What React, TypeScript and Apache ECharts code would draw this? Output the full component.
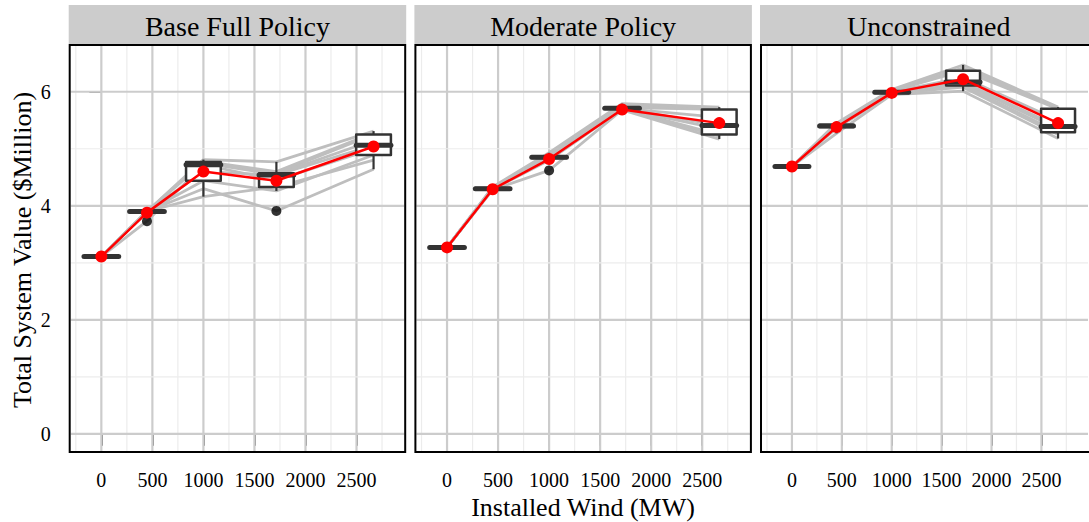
import React, { useEffect, useRef } from "react";
import * as echarts from "echarts";

// ---------- data ----------
const PANELS = ["Base Full Policy", "Moderate Policy", "Unconstrained"];
const WIND = [0, 447, 1000, 1715, 2667];
const X_TICKS = [0, 500, 1000, 1500, 2000, 2500];
const X_MINOR = [-250, 250, 750, 1250, 1750, 2250, 2750];
const Y_TICKS = [0, 2, 4, 6];
const Y_MINOR = [1, 3, 5];

// box stats per wind level: [min, q1, median, q3, max]
const BOX_BASE = [
  [3.11, 3.11, 3.11, 3.11, 3.11],
  [3.9, 3.9, 3.9, 3.9, 3.9],
  [4.16, 4.44, 4.72, 4.77, 4.81],
  [4.26, 4.33, 4.54, 4.57, 4.77],
  [4.64, 4.89, 5.06, 5.25, 5.31],
];
const BOX_MOD = [
  [3.27, 3.27, 3.27, 3.27, 3.27],
  [4.28, 4.3, 4.3, 4.31, 4.33],
  [4.8, 4.84, 4.85, 4.86, 4.93],
  [5.68, 5.7, 5.71, 5.72, 5.79],
  [5.17, 5.25, 5.41, 5.69, 5.73],
];
const BOX_UNC = [
  [4.69, 4.69, 4.69, 4.69, 4.69],
  [5.27, 5.38, 5.4, 5.42, 5.45],
  [5.95, 5.98, 5.99, 6.01, 6.04],
  [6.01, 6.11, 6.17, 6.37, 6.47],
  [5.18, 5.29, 5.39, 5.7, 5.73],
];

// outliers: [wind, value]
const OUT_BASE = [
  [447, 3.73],
  [1715, 3.91],
];
const OUT_MOD = [[1000, 4.62]];
const OUT_UNC: number[][] = [];

// mean values per wind level
const MEAN_BASE = [3.11, 3.88, 4.6, 4.44, 5.04];
const MEAN_MOD = [3.27, 4.29, 4.82, 5.69, 5.45];
const MEAN_UNC = [4.69, 5.38, 5.98, 6.22, 5.45];

// individual runs (values per wind level)
const RUNS_BASE = [
  [3.11, 3.9, 4.3, 3.91, 4.64],
  [3.11, 3.9, 4.16, 4.33, 4.8],
  [3.11, 3.9, 4.44, 4.26, 4.89],
  [3.11, 3.73, 4.72, 4.45, 5.0],
  [3.11, 3.9, 4.6, 4.54, 5.06],
  [3.11, 3.9, 4.75, 4.55, 5.15],
  [3.11, 3.9, 4.77, 4.57, 5.25],
  [3.11, 3.9, 4.78, 4.6, 5.28],
  [3.11, 3.9, 4.81, 4.77, 5.31],
];
const RUNS_MOD = [
  [3.27, 4.28, 4.62, 5.68, 5.17],
  [3.27, 4.29, 4.8, 5.69, 5.22],
  [3.27, 4.3, 4.84, 5.7, 5.25],
  [3.27, 4.3, 4.84, 5.7, 5.35],
  [3.27, 4.3, 4.85, 5.71, 5.41],
  [3.27, 4.31, 4.85, 5.71, 5.55],
  [3.27, 4.31, 4.86, 5.72, 5.69],
  [3.27, 4.32, 4.88, 5.75, 5.71],
  [3.27, 4.33, 4.93, 5.79, 5.73],
];
const RUNS_UNC = [
  [4.69, 5.27, 5.95, 6.01, 5.18],
  [4.69, 5.36, 5.97, 6.08, 5.25],
  [4.69, 5.38, 5.98, 6.11, 5.29],
  [4.69, 5.4, 5.99, 6.15, 5.35],
  [4.69, 5.4, 5.99, 6.17, 5.39],
  [4.69, 5.41, 6.0, 6.25, 5.5],
  [4.69, 5.42, 6.01, 6.37, 5.7],
  [4.69, 5.43, 6.02, 6.42, 5.72],
  [4.69, 5.45, 6.04, 6.47, 5.73],
];

const BOXES = [BOX_BASE, BOX_MOD, BOX_UNC];
const OUTLIERS = [OUT_BASE, OUT_MOD, OUT_UNC];
const MEANS = [MEAN_BASE, MEAN_MOD, MEAN_UNC];
const RUNS = [RUNS_BASE, RUNS_MOD, RUNS_UNC];

// ---------- layout / style ----------
const W = 1089;
const H = 522;
const X_MIN = -310;
const X_MAX = 2977;
const Y_MIN = -0.318;
const Y_MAX = 6.82;
const PANEL_LEFT = [69.7, 415.4, 761];
const PANEL_W = 335.5;
const PANEL_TOP = 45;
const PANEL_H = 407;
const STRIP_TOP = 5;
const BOX_W = 340;
const SERIF = "'Liberation Serif', 'Times New Roman', 'DejaVu Serif', serif";
const MAJOR = "#cccccc";
const MINOR = "#ececec";
const BOX_COL = "#333333";

const gridRender = (params: any, api: any) => {
  const cs = params.coordSys;
  const kind = api.value(2);
  if (kind < 2) {
    const x = api.coord([api.value(0), 0])[0];
    return {
      type: "line",
      shape: { x1: x, y1: cs.y + 1, x2: x, y2: cs.y + cs.height - 1 },
      style: { stroke: kind === 0 ? MAJOR : MINOR, lineWidth: kind === 0 ? 2.2 : 1.2 },
    };
  }
  const y = api.coord([0, api.value(1)])[1];
  return {
    type: "line",
    shape: { x1: cs.x + 1, y1: y, x2: cs.x + cs.width - 1, y2: y },
    style: { stroke: kind === 2 ? MAJOR : MINOR, lineWidth: kind === 2 ? 2.2 : 1.2 },
  };
};

const boxRender = (params: any, api: any) => {
  const xv = api.value(0);
  const p = (v: number) => api.coord([xv, v]);
  const [cx, yMin] = p(api.value(1));
  const yQ1 = p(api.value(2))[1];
  const yMed = p(api.value(3))[1];
  const yQ3 = p(api.value(4))[1];
  const yMax = p(api.value(5))[1];
  const w = api.size([BOX_W, 0])[0];
  const ls = { stroke: BOX_COL, lineWidth: 2.2 };
  return {
    type: "group",
    children: [
      { type: "line", shape: { x1: cx, y1: yMax, x2: cx, y2: yQ3 }, style: ls },
      { type: "line", shape: { x1: cx, y1: yQ1, x2: cx, y2: yMin }, style: ls },
      {
        type: "rect",
        shape: { x: cx - w / 2, y: yQ3, width: w, height: yQ1 - yQ3 },
        style: { fill: "#ffffff", stroke: BOX_COL, lineWidth: 2.5, lineJoin: "round" },
      },
      {
        type: "line",
        shape: { x1: cx - w / 2, y1: yMed, x2: cx + w / 2, y2: yMed },
        style: { stroke: BOX_COL, lineWidth: 5, lineCap: "round" },
      },
    ],
  };
};

function buildOption() {
  const grid: any[] = [];
  const xAxis: any[] = [];
  const yAxis: any[] = [];
  const series: any[] = [];
  const graphic: any[] = [];

  const gridData = [
    ...X_TICKS.map((v) => [v, 0, 0]),
    ...X_MINOR.map((v) => [v, 0, 1]),
    ...Y_TICKS.map((v) => [0, v, 2]),
    ...Y_MINOR.map((v) => [0, v, 3]),
  ];

  PANELS.forEach((name, i) => {
    grid.push({
      left: PANEL_LEFT[i],
      top: PANEL_TOP,
      width: PANEL_W,
      height: PANEL_H,
      show: true,
      backgroundColor: "#ffffff",
      borderColor: "#000000",
      borderWidth: 0,
    });
    xAxis.push({
      gridIndex: i,
      type: "value",
      min: X_MIN,
      max: X_MAX,
      axisLine: { show: false },
      splitLine: { show: false },
      axisTick: {
        show: true,
        length: 12,
        customValues: X_TICKS,
        lineStyle: { color: "#7f7f7f", width: 2 },
      },
      axisLabel: {
        customValues: X_TICKS,
        formatter: (v: number) => String(v),
        margin: 18,
        fontSize: 20,
        color: "#000000",
        fontFamily: SERIF,
      },
    });
    yAxis.push({
      gridIndex: i,
      type: "value",
      min: Y_MIN,
      max: Y_MAX,
      axisLine: { show: false },
      splitLine: { show: false },
      axisTick: {
        show: i === 0,
        length: 12,
        customValues: Y_TICKS,
        lineStyle: { color: "#7f7f7f", width: 2 },
      },
      axisLabel: {
        show: i === 0,
        customValues: Y_TICKS,
        formatter: (v: number) => String(v),
        margin: 19,
        fontSize: 20,
        color: "#000000",
        fontFamily: SERIF,
      },
    });

    series.push({
      type: "custom",
      xAxisIndex: i,
      yAxisIndex: i,
      renderItem: gridRender,
      data: gridData,
      encode: { x: 0, y: 1 },
      silent: true,
      z: 1,
    });

    RUNS[i].forEach((run) => {
      series.push({
        type: "line",
        xAxisIndex: i,
        yAxisIndex: i,
        data: run.map((v, k) => [WIND[k], v]),
        symbol: "none",
        lineStyle: { color: "#bebebe", width: 2.8 },
        silent: true,
        z: 2,
      });
    });

    series.push({
      type: "custom",
      xAxisIndex: i,
      yAxisIndex: i,
      renderItem: boxRender,
      data: BOXES[i].map((b, k) => [WIND[k], ...b]),
      encode: { x: 0, y: [1, 2, 3, 4, 5] },
      silent: true,
      z: 3,
    });

    series.push({
      type: "scatter",
      xAxisIndex: i,
      yAxisIndex: i,
      data: OUTLIERS[i],
      symbolSize: 10,
      itemStyle: { color: "#000000" },
      silent: true,
      z: 4,
    });

    series.push({
      type: "line",
      xAxisIndex: i,
      yAxisIndex: i,
      data: MEANS[i].map((v, k) => [WIND[k], v]),
      symbol: "circle",
      symbolSize: 12,
      itemStyle: { color: "#ff0000" },
      lineStyle: { color: "#ff0000", width: 2.5 },
      silent: true,
      z: 5,
    });

    // panel border on top
    graphic.push({
      type: "rect",
      shape: { x: PANEL_LEFT[i], y: PANEL_TOP, width: PANEL_W, height: PANEL_H },
      style: { fill: "none", stroke: "#000000", lineWidth: 2 },
      silent: true,
      z: 100,
    });
    graphic.push({
      type: "rect",
      shape: { x: PANEL_LEFT[i] - 1, y: STRIP_TOP, width: PANEL_W + 2, height: PANEL_TOP - STRIP_TOP - 1 },
      style: { fill: "#cccccc" },
      silent: true,
    });
    graphic.push({
      type: "text",
      x: PANEL_LEFT[i] + PANEL_W / 2,
      y: (STRIP_TOP + PANEL_TOP) / 2 + 1,
      style: {
        text: name,
        fontSize: 28,
        fontFamily: SERIF,
        fill: "#000000",
        align: "center",
        verticalAlign: "middle",
      },
      silent: true,
    });
  });

  graphic.push({
    type: "text",
    x: 583,
    y: 507,
    style: {
      text: "Installed Wind (MW)",
      fontSize: 26,
      fontFamily: SERIF,
      fill: "#000000",
      align: "center",
      verticalAlign: "middle",
    },
    silent: true,
  });
  graphic.push({
    type: "text",
    x: 22,
    y: 250,
    rotation: Math.PI / 2,
    style: {
      text: "Total System Value ($Million)",
      fontSize: 26,
      fontFamily: SERIF,
      fill: "#000000",
      align: "center",
      verticalAlign: "middle",
    },
    silent: true,
  });

  return {
    animation: false,
    backgroundColor: "#ffffff",
    grid,
    xAxis,
    yAxis,
    series,
    graphic,
  };
}

export default function App() {
  const ref = useRef<HTMLDivElement>(null);
  useEffect(() => {
    if (!ref.current) return;
    const chart = echarts.init(ref.current, undefined, { renderer: "svg" });
    chart.setOption(buildOption() as any);
    return () => chart.dispose();
  }, []);
  return (
    <div
      ref={ref}
      style={{ position: "fixed", left: 0, top: 0, width: W, height: H, background: "#fff" }}
    />
  );
}
